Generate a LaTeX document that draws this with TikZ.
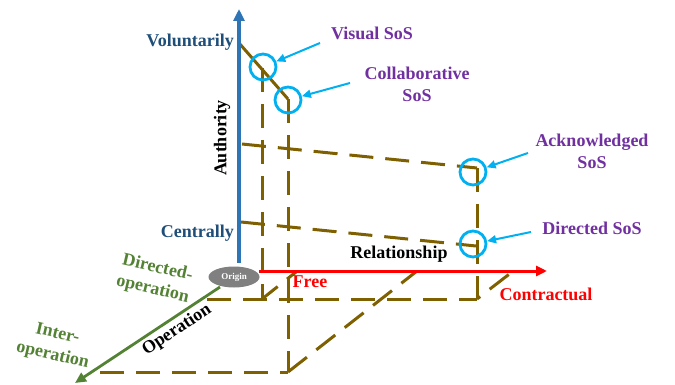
\documentclass[tikz,border=0pt]{standalone}
\usepackage{fontspec}
\setmainfont{Liberation Serif}
\usetikzlibrary{arrows.meta,shapes.geometric}
\definecolor{axblue}{RGB}{46,117,182}
\definecolor{lblblue}{RGB}{31,78,121}
\definecolor{cyanc}{RGB}{0,176,240}
\definecolor{purp}{RGB}{112,48,160}
\definecolor{grn}{RGB}{84,130,53}
\definecolor{olivec}{RGB}{127,96,0}
\begin{document}
\begin{tikzpicture}[x=1pt,y=-1pt,
  lbl/.style={font=\fontsize{18}{22}\selectfont\bfseries, inner sep=0pt},
  guide/.style={draw=olivec, line width=3pt, dash pattern=on 24pt off 12pt},
  solidguide/.style={draw=olivec, line width=3pt},
  ring/.style={circle, draw=cyanc, line width=2.8pt, minimum size=26pt, inner sep=0pt},
  pointer/.style={draw=cyanc, line width=2pt, -{Triangle[length=9pt,width=8pt]}},
]
\useasboundingbox (0,0) rectangle (675,385);
% guide points
\coordinate (vol0) at (239,43);
\coordinate (p1) at (262,68);
\coordinate (p2) at (288,99);
\coordinate (a1s) at (242,144);
\coordinate (p3) at (477,168);
\coordinate (a2s) at (241,222);
\coordinate (p4) at (476,246);
\coordinate (b1) at (207,299);
\coordinate (q1) at (262,299);
\coordinate (q3) at (477,299);
\coordinate (q2) at (288,372);
\coordinate (l1) at (100,372);
\coordinate (d1) at (296,272);
\coordinate (d2) at (417,271);
\coordinate (d3) at (512,272);
% guides
\draw[solidguide] (vol0) -- (p2);
\draw[guide] (p1) -- (q1);
\draw[guide] (p2) -- (q2);
\draw[guide] (p3) -- (q3);
\draw[guide] (a1s) -- (p3);
\draw[guide] (a2s) -- (p4);
\draw[guide] (b1) -- (q3);
\draw[guide] (l1) -- (q2);
\draw[guide, dash phase=4pt] (q1) -- (d1);
\draw[guide] (q2) -- (d2);
\draw[guide, dash phase=20pt] (q3) -- (d3);
% axes
\coordinate (O) at (239,263);
\coordinate (Atop) at (239,9);
\coordinate (R0) at (259,271);
\coordinate (Rtip) at (547,271);
\coordinate (G0) at (220,287);
\coordinate (Gtip) at (75,383);
\draw[axblue, line width=3.8pt, -{Triangle[length=12pt,width=11pt]}] (O) -- (Atop);
\draw[red, line width=3pt, -{Triangle[length=11pt,width=10pt]}] (R0) -- (Rtip);
\draw[grn, line width=2.8pt, -{Triangle[length=11pt,width=10pt]}] (G0) -- (Gtip);
\node[ellipse, fill=gray, minimum width=51pt, minimum height=21pt, inner sep=0pt,
  text=white, font=\fontsize{9}{10}\selectfont\bfseries] (origin) at (234,277) {Origin};
% rings
\node[ring] (visual) at (263,67) {};
\node[ring] (collab) at (288,100) {};
\node[ring] (ackr) at (473,172) {};
\node[ring] (dirr) at (473,244) {};
% labels
\node[lbl, text=lblblue, anchor=east] (vol) at (234,42) {Voluntarily};
\node[lbl, text=lblblue, anchor=east] (cen) at (234,233) {Centrally};
\node[lbl, rotate=90] (auth) at (222,138) {Authority};
\node[lbl] (rel) at (399,254) {Relationship};
\node[lbl, text=red] (free) at (310,282) {Free};
\node[lbl, text=red] (contr) at (546,294) {Contractual};
\node[lbl, text=purp] (vis) at (372,33) {Visual SoS};
\node[lbl, text=purp, align=center] (col) at (417,84) {Collaborative\\SoS};
\node[lbl, text=purp, align=center] (ack) at (592,151) {Acknowledged\\SoS};
\node[lbl, text=purp] (dir) at (592,228) {Directed SoS};
\node[lbl, text=grn, align=center, rotate=-13] (dop) at (155,279) {Directed-\\operation};
\node[lbl, text=grn, align=center, rotate=-13] (iop) at (55,345) {Inter-\\operation};
\node[lbl, rotate=33.6] (op) at (177,330) {Operation};
% pointers
\coordinate (pv) at (320,43);
\coordinate (pc) at (350,83);
\coordinate (pa) at (528,153);
\coordinate (pd) at (531,232);
\draw[pointer] (pv) -- (visual);
\draw[pointer] (pc) -- (collab);
\draw[pointer] (pa) -- (ackr);
\draw[pointer] (pd) -- (dirr);
\end{tikzpicture}
\end{document}
